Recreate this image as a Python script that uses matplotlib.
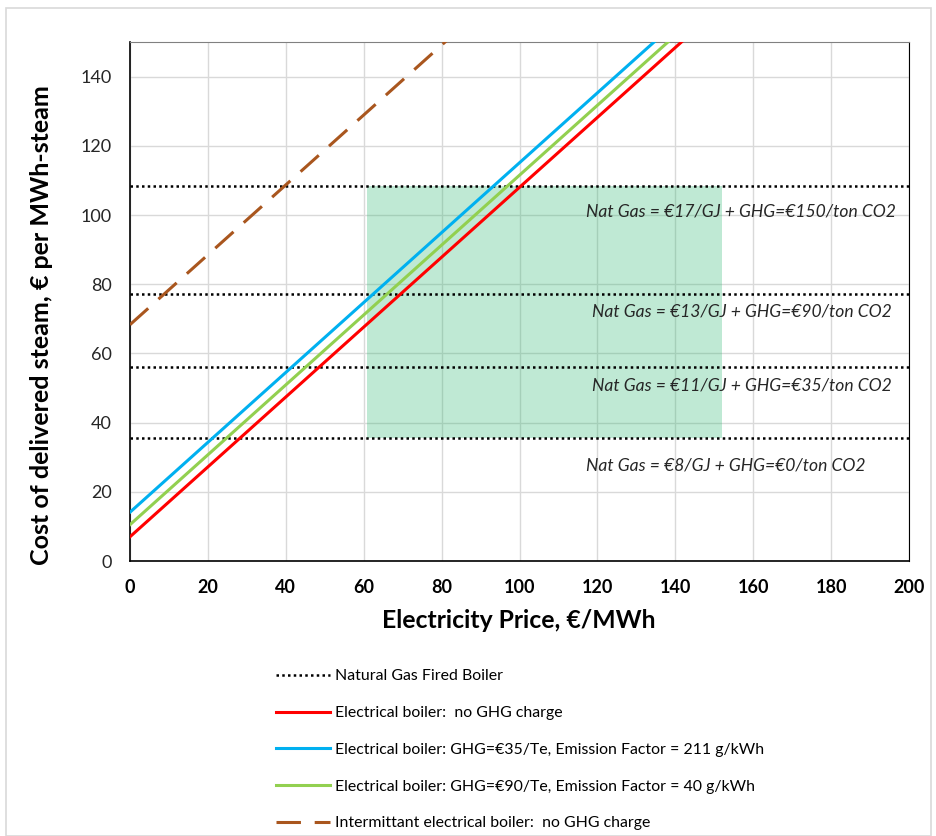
import matplotlib.pyplot as plt
from matplotlib.patches import Rectangle

plt.rcParams['font.family'] = ['Lato', 'DejaVu Sans']

# electricity price, EUR/MWh
price = [0, 50, 100, 150]
elec_no_ghg = [7.0, 57.5, 108.0, 158.5]
elec_ghg35 = [14.1, 64.6, 115.1, 165.6]
elec_ghg90 = [10.5, 61.0, 111.5, 162.0]
price_interm = [0, 50, 100]
interm_no_ghg = [68.3, 118.8, 169.3]

gas_levels = [35.6, 56.1, 77.3, 108.5]
gas_labels = ['Nat Gas = €8/GJ + GHG=€0/ton CO2',
              'Nat Gas = €11/GJ + GHG=€35/ton CO2',
              'Nat Gas = €13/GJ + GHG=€90/ton CO2',
              'Nat Gas = €17/GJ + GHG=€150/ton CO2']
label_y = [27.5, 50.6, 72.0, 101.0]
label_x = [117.0, 118.5, 118.5, 117.0]

shade_x = [60.8, 152.0]
shade_y = [35.6, 108.5]

fig = plt.figure(figsize=(9.37, 8.36), dpi=100)
ax = fig.add_axes([130/937, 1 - 561/836, 779/937, 519/836])

fig.patches.append(Rectangle((6/937, 0), 1 - 12/937, 1 - 8/836, transform=fig.transFigure,
                             fill=False, edgecolor='#d9d9d9', linewidth=1.2))

ax.fill_between(shade_x, shade_y[0], shade_y[1], color='#2eb872', alpha=0.3, lw=0, zorder=1)

for i, lvl in enumerate(gas_levels):
    ax.plot([0, 200], [lvl, lvl], color='black', linestyle=(0, (1, 1.3)), lw=1.8,
            label='Natural Gas Fired Boiler' if i == 0 else None, zorder=3)

ax.plot(price, elec_no_ghg, color='#ff0000', lw=2.2, label='Electrical boiler:  no GHG charge', zorder=4)
ax.plot(price, elec_ghg35, color='#00b0f0', lw=2.2,
        label='Electrical boiler: GHG=€35/Te, Emission Factor = 211 g/kWh', zorder=4)
ax.plot(price, elec_ghg90, color='#92d050', lw=2.2,
        label='Electrical boiler: GHG=€90/Te, Emission Factor = 40 g/kWh', zorder=4)
ax.plot(price_interm, interm_no_ghg, color='#a9561e', lw=2.2, dashes=(8, 4.5),
        label='Intermittant electrical boiler:  no GHG charge', zorder=4)

for x, y, t in zip(label_x, label_y, gas_labels):
    ax.text(x, y, t, style='italic', fontsize=12.6, color='#262626', va='center', ha='left', zorder=5)

ax.set_xlim(0, 200)
ax.set_ylim(0, 150)
ax.set_xticks(range(0, 201, 20))
ax.set_yticks(range(0, 141, 20))
ax.grid(True, color='#d9d9d9', lw=1)
ax.set_axisbelow(True)
ax.tick_params(length=0, labelsize=13, labelcolor='#262626')
ax.tick_params(axis='y', pad=13)
ax.tick_params(axis='x', pad=13)
for lab in ax.get_xticklabels():
    lab.set_fontweight('bold')
    lab.set_color('black')
ax.spines['top'].set_color('#808080')
for s in ['left', 'bottom', 'right']:
    ax.spines[s].set_color('black')
ax.spines['left'].set_linewidth(1.2)
ax.spines['bottom'].set_linewidth(1.2)

fig.text(519/937, 1 - 621/836, 'Electricity Price, €/MWh', ha='center', va='center',
         fontsize=17.8, fontweight='bold')
fig.text(42/937, 1 - 325/836, 'Cost of delivered steam, € per MWh-steam', ha='center', va='center',
         rotation=90, fontsize=18, fontweight='bold')

fig.legend(loc='upper left', bbox_to_anchor=(262/937, 1 - 655/836), frameon=False,
           fontsize=11.4, handlelength=3.4, handletextpad=0.3, labelspacing=1.43)

fig.savefig('out.png', dpi=100)
